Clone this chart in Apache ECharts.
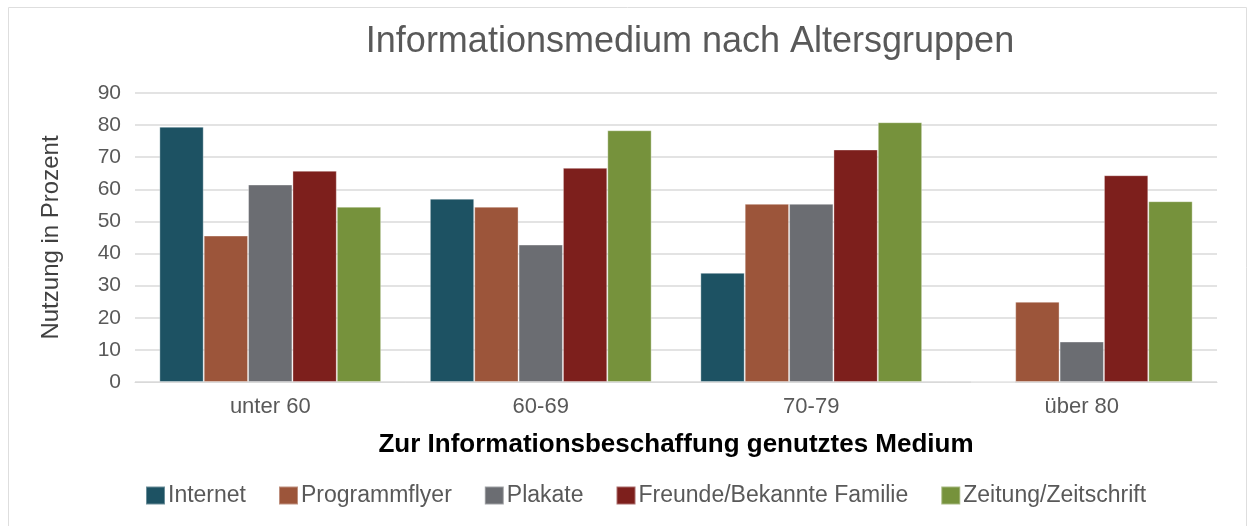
<!DOCTYPE html>
<html>
<head>
<meta charset="utf-8">
<script src="https://cdn.jsdelivr.net/npm/echarts@6/dist/echarts.min.js"></script>
<style>html,body{margin:0;padding:0;background:#fff;}#c{width:1253px;height:526px;}</style>
</head>
<body>
<div id="c"></div>
<script>
const categories = ['unter 60', '60-69', '70-79', 'über 80'];
const seriesNames = ['Internet', 'Programmflyer', 'Plakate', 'Freunde/Bekannte Familie', 'Zeitung/Zeitschrift'];
const internet = [79.5, 57.1, 34.0, 0];
const programmflyer = [45.6, 54.6, 55.5, 25.0];
const plakate = [61.5, 42.8, 55.5, 12.6];
const freunde = [65.8, 66.7, 72.4, 64.4];
const zeitung = [54.6, 78.4, 80.9, 56.3];
const colors = ['#1d5263', '#9c553a', '#6b6d72', '#7d1f1c', '#76923c'];
const yTicks = [0, 10, 20, 30, 40, 50, 60, 70, 80, 90];

const values = [internet, programmflyer, plakate, freunde, zeitung];
const font = 'Liberation Sans, Arial, sans-serif';
const chart = echarts.init(document.getElementById('c'));
chart.setOption({
  animation: false,
  textStyle: { fontFamily: font },
  graphic: [{
    type: 'rect', shape: { x: 8.5, y: 7.5, width: 1238, height: 530 },
    style: { fill: 'none', stroke: '#dedede', lineWidth: 1 }, silent: true
  }],
  title: {
    text: 'Informationsmedium nach Altersgruppen',
    left: 685, textAlign: 'center', top: 19,
    textStyle: { fontFamily: font, fontSize: 36, fontWeight: 'normal', color: '#595959' }
  },
  legend: {
    bottom: 14, left: 140,
    itemWidth: 19, itemHeight: 18, itemGap: 32,
    icon: 'rect',
    textStyle: { fontFamily: font, fontSize: 23, color: '#595959', padding: [0, 0, 0, -2] },
    data: seriesNames
  },
  grid: { left: 135, right: 36, top: 93, bottom: 144 },
  xAxis: {
    type: 'category', data: categories,
    name: 'Zur Informationsbeschaffung genutztes Medium',
    nameLocation: 'middle', nameGap: 50,
    nameTextStyle: { fontFamily: font, fontSize: 26, fontWeight: 'bold', color: '#000' },
    axisLine: { lineStyle: { color: '#d9d9d9' } },
    axisTick: { show: false },
    axisLabel: { fontSize: 22, color: '#595959', margin: 14 }
  },
  yAxis: {
    type: 'value', min: 0, max: 90, interval: 10,
    name: 'Nutzung in Prozent', nameLocation: 'middle', nameGap: 72,
    nameTextStyle: { fontFamily: font, fontSize: 24, color: '#404040' },
    axisLabel: { fontSize: 21, color: '#595959', margin: 14,
      formatter: v => yTicks.includes(v) ? String(v) : '' },
    splitLine: { lineStyle: { color: '#e3e3e3', width: 2 } },
    axisLine: { show: false }, axisTick: { show: false }
  },
  series: seriesNames.map((n, i) => ({
    name: n, type: 'bar', data: values[i],
    barGap: '0%', barCategoryGap: '18%',
    itemStyle: { color: colors[i], borderColor: 'rgba(255,255,255,0.35)', borderWidth: 1 }
  }))
});
</script>
</body>
</html>
